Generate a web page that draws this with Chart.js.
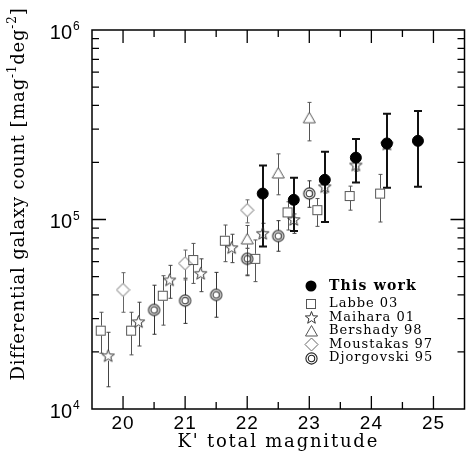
<!DOCTYPE html>
<html>
<head>
<meta charset="utf-8">
<script src="https://cdn.jsdelivr.net/npm/chart.js"></script>
<style>
  body { margin: 0; background: #fff; }
</style>
</head>
<body>
<canvas id="c" width="471" height="467"></canvas>
<script>
// K' magnitude bins and counts (mag^-1 deg^-2), with error bar ends
const thisMag = [22.25, 22.75, 23.25, 23.75, 24.25, 24.75];
const thisVal = [1.37e5, 1.27e5, 1.62e5, 2.12e5, 2.52e5, 2.6e5];
const thisHi  = [1.93e5, 1.66e5, 2.28e5, 2.66e5, 3.61e5, 3.74e5];
const thisLo  = [7.2e4, 8.7e4, 9.7e4, 1.57e5, 1.47e5, 1.49e5];

const labbeMag = [19.64, 20.13, 20.64, 21.13, 21.64, 22.13, 22.65, 23.13, 23.65, 24.14];
const labbeVal = [2.59e4, 2.59e4, 3.96e4, 6.11e4, 7.73e4, 6.2e4, 1.09e5, 1.12e5, 1.33e5, 1.37e5];
const labbeHi  = [3.24e4, 3.24e4, 5.05e4, 7.48e4, 9.35e4, 7.8e4, 1.24e5, 1.29e5, 1.5e5, 1.73e5];
const labbeLo  = [1.97e4, 1.93e4, 2.77e4, 4.6e4, 5.99e4, 4.7e4, 8.8e4, 9.2e4, 1.12e5, 9.7e4];

const maiharaMag = [19.76, 20.25, 20.75, 21.25, 21.75, 22.25, 22.75, 23.25, 23.75, 24.25];
const maiharaVal = [1.91e4, 2.89e4, 4.8e4, 5.2e4, 7.1e4, 8.45e4, 1.0e5, 1.49e5, 1.94e5, 2.5e5];
const maiharaHi  = [2.54e4, 3.66e4, 5.73e4, 6.2e4, 8.36e4, 9.55e4, 1.07e5, 1.6e5, 2.08e5, 2.65e5];
const maiharaLo  = [1.31e4, 2.15e4, 3.84e4, 4.16e4, 5.92e4, 7.2e4, 8.45e4, 1.38e5, 1.8e5, 2.35e5];

const bershadyMag = [22.0, 22.5, 23.0];
const bershadyVal = [7.85e4, 1.75e5, 3.42e5];
const bershadyHi  = [9.3e4, 2.22e5, 4.15e5];
const bershadyLo  = [5.1e4, 1.35e5, 2.6e5];

const moustakasMag = [20.0, 21.0, 22.0];
const moustakasVal = [4.25e4, 5.87e4, 1.12e5];
const moustakasHi  = [5.24e4, 6.9e4, 1.27e5];
const moustakasLo  = [3.24e4, 4.8e4, 9.6e4];

const djorgMag = [20.5, 21.0, 21.5, 22.0, 22.5, 23.0];
const djorgVal = [3.33e4, 3.73e4, 4.0e4, 6.2e4, 8.18e4, 1.37e5];
const djorgHi  = [4.5e4, 4.9e4, 5.26e4, 7.05e4, 9.86e4, 1.6e5];
const djorgLo  = [2.48e4, 2.83e4, 3.05e4, 5.05e4, 6.8e4, 1.16e5];

const xTicks = [20, 21, 22, 23, 24, 25];
const yTicks = [4, 5, 6];

function pts(m, v, lo, hi) {
  return m.map((x, i) => ({ x: x, y: v[i], lo: lo[i], hi: hi[i] }));
}

// small canvases used as point symbols
function sym(size, draw) {
  const c = document.createElement('canvas');
  c.width = c.height = size;
  const g = c.getContext('2d');
  draw(g, size / 2);
  return c;
}
const squareImg = sym(12, (g) => {
  g.strokeStyle = '#555'; g.lineWidth = 1;
  g.strokeRect(1.5, 1.5, 9, 9);
});
const starImg = sym(15, (g, c) => {
  g.strokeStyle = '#333'; g.lineWidth = 1;
  g.beginPath();
  for (let i = 0; i < 10; i++) {
    const r = i % 2 ? 2.7 : 6.5;
    const a = -Math.PI / 2 + i * Math.PI / 5;
    g.lineTo(c + r * Math.cos(a), c + 0.5 + r * Math.sin(a));
  }
  g.closePath(); g.stroke();
});
const triImg = sym(15, (g, c) => {
  g.strokeStyle = '#555'; g.lineWidth = 1;
  g.beginPath();
  g.moveTo(c, c - 6); g.lineTo(c + 6, c + 4.5); g.lineTo(c - 6, c + 4.5);
  g.closePath(); g.stroke();
});
const diamondImg = sym(15, (g, c) => {
  g.strokeStyle = '#666'; g.lineWidth = 1;
  g.beginPath();
  g.moveTo(c, c - 6.5); g.lineTo(c + 6.5, c); g.lineTo(c, c + 6.5); g.lineTo(c - 6.5, c);
  g.closePath(); g.stroke();
});
const dcircImg = sym(15, (g, c) => {
  g.strokeStyle = '#222'; g.lineWidth = 1.1;
  g.beginPath(); g.arc(c, c, 5.6, 0, Math.PI * 2); g.stroke();
  g.beginPath(); g.arc(c, c, 3.2, 0, Math.PI * 2); g.stroke();
});

const series = [
  { label: 'This work', data: pts(thisMag, thisVal, thisLo, thisHi), pointStyle: 'circle', pointRadius: 5.5,
    backgroundColor: '#000', borderColor: '#000', barColor: '#111', barWidth: 2, cap: 4, gap: 0, bold: true },
  { label: 'Labbe 03', data: pts(labbeMag, labbeVal, labbeLo, labbeHi), pointStyle: squareImg,
    barColor: '#555', barWidth: 1, cap: 2, gap: 5 },
  { label: 'Maihara 01', data: pts(maiharaMag, maiharaVal, maiharaLo, maiharaHi), pointStyle: starImg,
    barColor: '#444', barWidth: 1, cap: 2, gap: 5 },
  { label: 'Bershady 98', data: pts(bershadyMag, bershadyVal, bershadyLo, bershadyHi), pointStyle: triImg,
    barColor: '#555', barWidth: 1, cap: 2, gap: 5 },
  { label: 'Moustakas 97', data: pts(moustakasMag, moustakasVal, moustakasLo, moustakasHi), pointStyle: diamondImg,
    barColor: '#666', barWidth: 1, cap: 2, gap: 6.5 },
  { label: 'Djorgovski 95', data: pts(djorgMag, djorgVal, djorgLo, djorgHi), pointStyle: dcircImg,
    barColor: '#333', barWidth: 1, cap: 2, gap: 5.6 }
];

const errorBars = {
  id: 'errorBars',
  beforeDatasetsDraw(chart) {
    const { ctx, scales: { x, y } } = chart;
    chart.data.datasets.slice().reverse().forEach(ds => {
      ctx.save();
      ctx.strokeStyle = ds.barColor;
      ctx.lineWidth = ds.barWidth;
      ds.data.forEach(p => {
        const px = Math.round(x.getPixelForValue(p.x)) + (ds.barWidth === 1 ? 0.5 : 0);
        const py = y.getPixelForValue(p.y);
        const top = y.getPixelForValue(p.hi), bot = y.getPixelForValue(p.lo);
        ctx.beginPath();
        ctx.moveTo(px, top); ctx.lineTo(px, py - ds.gap);
        ctx.moveTo(px, py + ds.gap); ctx.lineTo(px, bot);
        ctx.moveTo(px - ds.cap, top); ctx.lineTo(px + ds.cap, top);
        ctx.moveTo(px - ds.cap, bot); ctx.lineTo(px + ds.cap, bot);
        ctx.stroke();
      });
      ctx.restore();
    });
  }
};

const frame = {
  id: 'frame',
  afterDraw(chart) {
    const { ctx, chartArea: a, scales: { x, y } } = chart;
    ctx.save();
    ctx.strokeStyle = '#000';
    ctx.lineWidth = 1.5;
    ctx.strokeRect(a.left, a.top, a.right - a.left, a.bottom - a.top);
    ctx.lineWidth = 1.3;
    ctx.beginPath();
    // x ticks, inward on bottom and top
    for (let v = 20; v <= 25; v += 0.5) {
      const px = x.getPixelForValue(v);
      const len = Number.isInteger(v) ? 13 : 7;
      ctx.moveTo(px, a.bottom); ctx.lineTo(px, a.bottom - len);
      ctx.moveTo(px, a.top); ctx.lineTo(px, a.top + len);
    }
    // y ticks, log decades and minors
    for (let d = 4; d < 6; d++) {
      for (let k = 1; k <= 9; k++) {
        if (d === 4 && k === 1) continue;
        const py = y.getPixelForValue(k * Math.pow(10, d));
        const len = k === 1 ? 14 : 7;
        ctx.moveTo(a.left, py); ctx.lineTo(a.left + len, py);
        ctx.moveTo(a.right, py); ctx.lineTo(a.right - len, py);
      }
    }
    ctx.stroke();

    ctx.fillStyle = '#000';
    // x tick labels
    ctx.font = '19px "Liberation Sans"';
    ctx.letterSpacing = '1px';
    ctx.textAlign = 'center';
    ctx.textBaseline = 'middle';
    xTicks.forEach(v => ctx.fillText(String(v), x.getPixelForValue(v), 424));
    ctx.letterSpacing = '0px';
    // y tick labels 10^n
    yTicks.forEach(n => {
      const py = y.getPixelForValue(Math.pow(10, n));
      ctx.font = '20px "Liberation Sans"';
      ctx.textAlign = 'right';
      ctx.textBaseline = 'middle';
      ctx.fillText('10', 72, py + 3);
      ctx.font = '12px "Liberation Sans"';
      ctx.textAlign = 'left';
      ctx.fillText(String(n), 73, py - 3);
    });
    // x title
    ctx.font = '18px "DejaVu Serif"';
    ctx.letterSpacing = '1.8px';
    ctx.textAlign = 'center';
    ctx.textBaseline = 'alphabetic';
    ctx.fillText("K' total magnitude", (a.left + a.right) / 2, 447);
    // y title with superscripts
    ctx.save();
    ctx.translate(24, 194);
    ctx.rotate(-Math.PI / 2);
    ctx.letterSpacing = '0.8px';
    const parts = [['Differential galaxy count [mag', 0], ['-1', 1], ['deg', 0], ['-2', 1], [']', 0]];
    let total = 0;
    parts.forEach(p => {
      ctx.font = p[1] ? '12px "DejaVu Serif"' : '18px "DejaVu Serif"';
      total += ctx.measureText(p[0]).width;
    });
    let cx = -total / 2;
    ctx.textAlign = 'left';
    parts.forEach(p => {
      ctx.font = p[1] ? '12px "DejaVu Serif"' : '18px "DejaVu Serif"';
      ctx.fillText(p[0], cx, p[1] ? -8 : 0);
      cx += ctx.measureText(p[0]).width;
    });
    ctx.restore();

    // legend
    const rows = [286, 304, 317.5, 331, 344.5, 358];
    chart.data.datasets.forEach((ds, i) => {
      const ly = rows[i];
      if (ds.pointStyle === 'circle') {
        ctx.beginPath(); ctx.arc(311, ly, 5.5, 0, Math.PI * 2); ctx.fill();
      } else {
        const im = ds.pointStyle;
        ctx.drawImage(im, Math.round(311 - im.width / 2), Math.round(ly - im.height / 2));
      }
      ctx.font = ds.bold ? 'bold 14px "DejaVu Serif"' : '13px "DejaVu Serif"';
      ctx.letterSpacing = ds.bold ? '1.2px' : '1px';
      ctx.textAlign = 'left';
      ctx.textBaseline = 'middle';
      ctx.fillText(ds.label, 329, ly);
    });
    ctx.restore();
  }
};

new Chart(document.getElementById('c'), {
  type: 'scatter',
  data: { datasets: series },
  options: {
    responsive: false,
    animation: false,
    layout: { padding: { left: 92, right: 1, top: 30, bottom: 58 } },
    scales: {
      x: { type: 'linear', min: 19.5, max: 25.5, display: false },
      y: { type: 'logarithmic', min: 1e4, max: 1e6, display: false }
    },
    plugins: { legend: { display: false }, tooltip: { enabled: false } }
  },
  plugins: [errorBars, frame]
});
</script>
</body>
</html>
